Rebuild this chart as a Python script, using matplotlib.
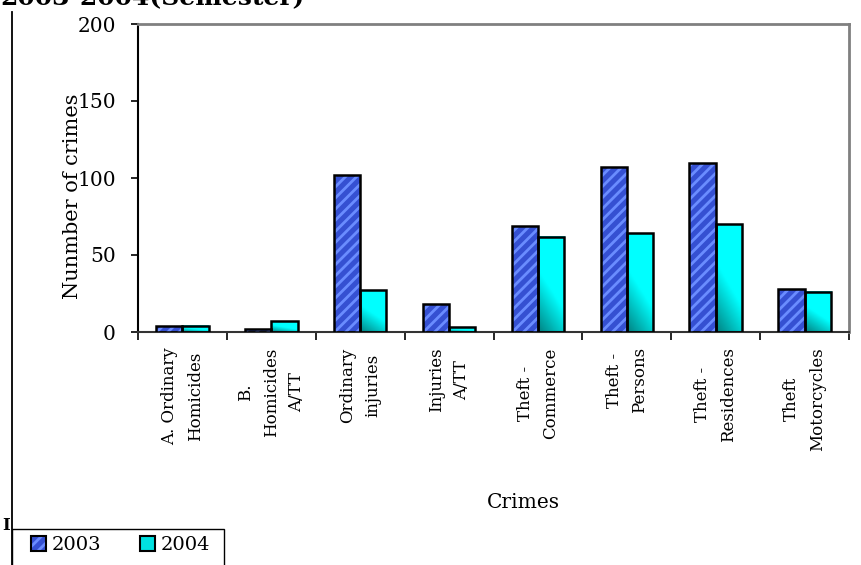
import numpy as np
import matplotlib
matplotlib.use("Agg")
from matplotlib import pyplot as plt
from matplotlib.patches import Patch, Rectangle
from matplotlib.legend_handler import HandlerTuple
from matplotlib.lines import Line2D

# datos
categorias = ["A. Ordinary\nHomicides", "B.\nHomicides\nA/TT", "Ordinary\ninjuries",
              "Injuries\nA/TT", "Theft -\nCommerce", "Theft -\nPersons",
              "Theft -\nResidences", "Theft\nMotorcycles"]
valores_2003 = [4, 2, 102, 18, 69, 107, 110, 28]
valores_2004 = [4, 7, 27, 3, 62, 64, 70, 26]
anios = ["2003", "2004"]
y_ticks = [0, 50, 100, 150, 200]

plt.rcParams['font.family'] = ['DejaVu Serif']
plt.rcParams['hatch.linewidth'] = 2.0

W, H = 861, 565
fig = plt.figure(figsize=(W / 100, H / 100), dpi=100)
ax = fig.add_axes([138 / W, 1 - 332 / H, (849 - 138) / W, (332 - 24) / H])

x = np.arange(len(categorias))
ancho = 0.295
azul = '#3550d2'
azul_claro = '#6a8cff'

# barras 2003 con rayas
for xi, v in zip(x, valores_2003):
    x0 = xi - ancho
    ax.add_patch(Rectangle((x0, 0), ancho, v, facecolor=azul, edgecolor='none', zorder=2))
    ax.add_patch(Rectangle((x0, 0), ancho, v, fill=False, edgecolor=azul_claro,
                           hatch='///', linewidth=0, zorder=3))
    ax.add_patch(Rectangle((x0, 0), ancho, v, fill=False, edgecolor='black',
                           linewidth=1.8, zorder=4))

# barras 2004 con degradado
oscuro = np.array([0.0, 0.42, 0.42])
cian = np.array([0.0, 1.0, 1.0])
for xi, v in zip(x, valores_2004):
    x0 = xi
    xf = np.linspace(0, 1, 40)[None, :]
    yf = np.linspace(1, 0, 80)[:, None]
    t = np.clip(0.15 + 0.55 * xf + 1.3 * yf, 0, 1)
    img = oscuro + (cian - oscuro) * t[..., None]
    ax.imshow(img, extent=[x0, x0 + ancho, 0, v], aspect='auto', zorder=2,
              interpolation='bilinear')
    ax.add_patch(Rectangle((x0, 0), ancho, v, fill=False, edgecolor='black',
                           linewidth=1.8, zorder=4))

ax.set_xlim(-0.5, len(categorias) - 0.5)
ax.set_ylim(0, 200)
ax.set_yticks(y_ticks)
ax.tick_params(axis='y', labelsize=14.5, length=5, width=1.2, direction='out', pad=11)

ax.set_xticks(np.arange(len(categorias) + 1) - 0.5)
ax.set_xticklabels([])
ax.set_xticks(x, minor=True)
ax.set_xticklabels(categorias, minor=True, rotation=90, ha='center', va='top',
                   multialignment='center', fontsize=12, linespacing=1.65)
ax.tick_params(axis='x', which='major', length=6, width=1.2, direction='out')
ax.tick_params(axis='x', which='minor', length=0, pad=11)

for lado in ['top', 'right']:
    ax.spines[lado].set_color('#808080')
    ax.spines[lado].set_linewidth(2)
ax.spines['left'].set_linewidth(1.5)
ax.spines['bottom'].set_linewidth(1.5)
ax.spines['bottom'].set_color('#333333')

fig.text(73 / W, 1 - 196 / H, "Nunmber of crimes", rotation=90, ha='center',
         va='center', fontsize=15)
fig.text(523 / W, 1 - 503 / H, "Crimes", ha='center', va='center', fontsize=14.5)

# titulo cortado arriba
fig.text(0, 1 - 5 / H, "2003-2004(Semester)", ha='left', va='baseline',
         fontsize=18, fontweight='bold')

# marco exterior
fig.add_artist(Line2D([12 / W, 12 / W], [0, 1 - 12 / H], color='black', lw=1.3,
                      transform=fig.transFigure))
fig.text(2 / W, 1 - 525 / H, "I", ha='left', va='center', fontsize=12,
         fontweight='bold')

# leyenda con marco propio
fig.add_artist(Rectangle((12 / W, -0.05), (224 - 12) / W, 0.05 + (565 - 529) / H,
                         fill=True, facecolor='white', edgecolor='black', lw=1.0,
                         transform=fig.transFigure, zorder=5))
h2003 = (Patch(facecolor=azul, edgecolor=azul_claro, hatch='///', linewidth=0),
         Patch(fill=False, edgecolor='black', linewidth=1.5))
h2004 = (Patch(facecolor='#00e0e0', edgecolor='none'),
         Patch(fill=False, edgecolor='black', linewidth=1.5))
leg = fig.legend([h2003, h2004], anios, handler_map={tuple: HandlerTuple(ndivide=1)},
                 loc='upper left', bbox_to_anchor=(31 / W, 1 - 536 / H), ncol=2,
                 frameon=False, fontsize=14,
                 handlelength=0.78, handleheight=0.78, handletextpad=0.3,
                 columnspacing=1.95, borderpad=0, borderaxespad=0)
leg.set_zorder(6)

fig.savefig('out.png', dpi=100)
